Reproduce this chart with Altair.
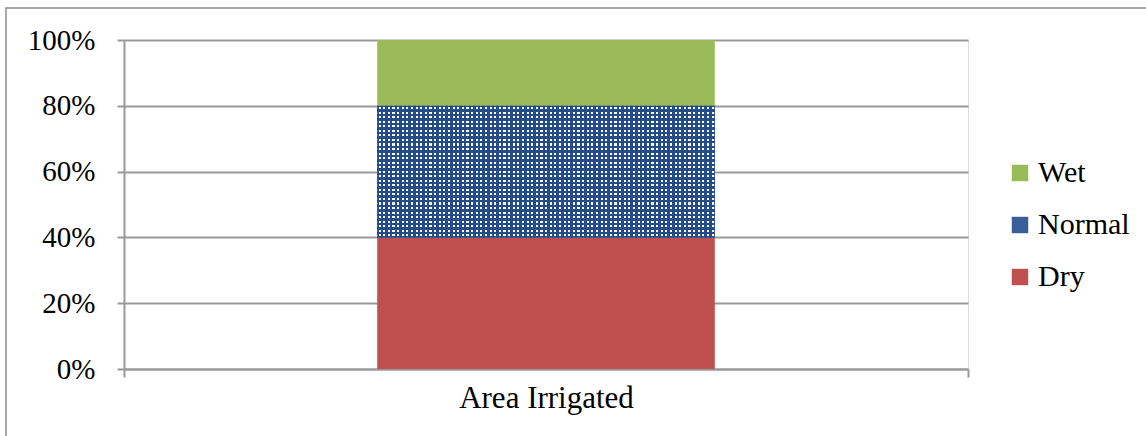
import altair as alt
import pandas as pd

# 100% stacked column: share of irrigated area by season type
categories = ["Area Irrigated", "Area Irrigated", "Area Irrigated"]
seasons = ["Dry", "Normal", "Wet"]
shares = [40, 40, 20]
stack_order = [1, 2, 3]
legend_order = ["Wet", "Normal", "Dry"]
y_ticks = [0, 0.2, 0.4, 0.6, 0.8, 1.0]

df = pd.DataFrame({"cat": categories, "season": seasons, "share": shares, "ord": stack_order})

SERIF = "'Liberation Serif', 'Times New Roman', serif"
GREY = "#999999"
BLUE = "#244C88"
WHITE = "#FFFFFF"
CLEAR = "rgba(255,255,255,0)"

# Dotted fill for the "Normal" segment: white rows under a blue layer with open columns
def stripes(n, on, off, lo=0.30, frac=0.45):
    p = 1.0 / n
    stops = [alt.GradientStop(offset=0, color=off)]
    for i in range(n):
        a = i * p + p * lo
        b = a + p * frac
        stops += [alt.GradientStop(offset=a, color=off), alt.GradientStop(offset=a, color=on),
                  alt.GradientStop(offset=b, color=on), alt.GradientStop(offset=b, color=off)]
    stops.append(alt.GradientStop(offset=1, color=off))
    return stops

rows_fill = alt.LinearGradient(gradient="linear", x1=0, y1=0, x2=0, y2=1,
                               stops=stripes(29, WHITE, BLUE))
cols_fill = alt.LinearGradient(gradient="linear", x1=0, y1=0, x2=1, y2=0,
                               stops=stripes(73, CLEAR, BLUE))

base = alt.Chart(df).transform_stack(
    stack="share", as_=["y0", "y1"], groupby=["cat"], offset="normalize",
    sort=[alt.SortField("ord", order="ascending")]
)

x_enc = alt.X("cat:N", title=None,
              scale=alt.Scale(paddingInner=0, paddingOuter=0),
              axis=alt.Axis(labelFont=SERIF, labelFontSize=31, labelColor="black",
                            labelAngle=0, labelPadding=6, tickBand="extent",
                            tickSize=8, tickColor=GREY, tickWidth=2,
                            domainColor=GREY, domainWidth=2, grid=False))
y_enc = alt.Y("y0:Q", title=None,
              scale=alt.Scale(domain=[0, 1], nice=False),
              axis=alt.Axis(values=y_ticks, format=".0%", labelFont=SERIF,
                            labelFontSize=29, labelColor="black", labelPadding=22,
                            tickSize=7, tickColor=GREY, tickWidth=2,
                            domainColor=GREY, domainWidth=2,
                            gridColor=GREY, gridWidth=2))

bars = base.mark_bar(width=alt.RelativeBandSize(0.4)).encode(
    x=x_enc,
    y=y_enc,
    y2="y1:Q",
    color=alt.Color("season:N",
                    scale=alt.Scale(domain=legend_order,
                                    range=["#9BBB59", "#3A5E98", "#C0504D"]),
                    legend=alt.Legend(title=None, orient="none", legendX=881, legendY=118,
                                      symbolType="square", symbolSize=270,
                                      symbolStrokeWidth=0, labelFont=SERIF,
                                      labelFontSize=30, labelColor="black",
                                      labelOffset=3, rowPadding=22)),
)

normal = base.transform_filter(alt.datum.season == "Normal")
dot_rows = normal.mark_bar(width=alt.RelativeBandSize(0.4), fill=rows_fill).encode(
    x="cat:N", y="y0:Q", y2="y1:Q")
dot_cols = normal.mark_bar(width=alt.RelativeBandSize(0.4), fill=cols_fill).encode(
    x="cat:N", y="y0:Q", y2="y1:Q")

# outer frame of the chart area
frame = alt.Chart(pd.DataFrame({"k": [0]})).mark_rect(
    fill=None, stroke="#8a8a8a", strokeWidth=1.5, clip=False
).encode(x=alt.value(-118), x2=alt.value(1200), y=alt.value(-32), y2=alt.value(600))

chart = alt.layer(bars, dot_rows, dot_cols, frame).properties(
    width=844, height=329,
    autosize=alt.AutoSizeParams(type="none"),
    padding={"left": 124, "top": 40, "right": 178, "bottom": 67},
).configure_view(stroke=None).configure(background="white")

chart.save("out.html", embed_options={"renderer": "svg", "actions": False})
